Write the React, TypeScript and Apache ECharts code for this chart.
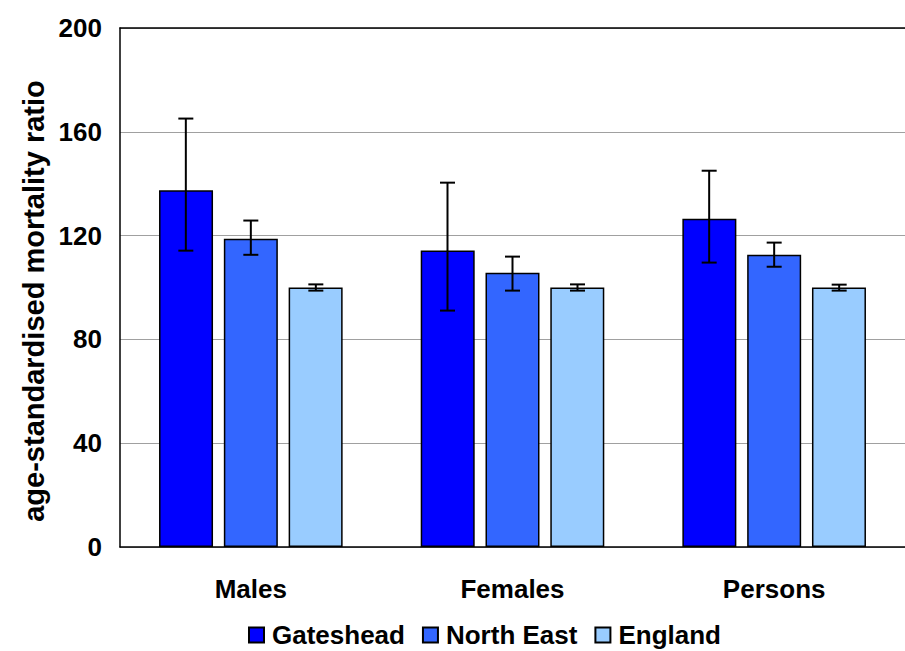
import React, { useEffect, useRef } from "react";
import * as echarts from "echarts";

const categories = ["Males", "Females", "Persons"];
const seriesNames = ["Gateshead", "North East", "England"];

const gateshead = [137.5, 114.3, 126.5];
const gatesheadLow = [114.2, 91.1, 109.6];
const gatesheadHigh = [165.1, 140.4, 145.0];

const northEast = [118.8, 105.7, 112.6];
const northEastLow = [112.6, 98.8, 108.0];
const northEastHigh = [125.8, 111.9, 117.3];

const england = [100, 100, 100];
const englandLow = [98.8, 98.8, 98.8];
const englandHigh = [101.2, 101.2, 101.1];

const yTicks = [0, 40, 80, 120, 160, 200];

const colors = ["#0000FF", "#3366FF", "#99CCFF"];
const FONT = "'Liberation Sans', Arial, sans-serif";

const BAR_W = 54;
const STEP = 65;

function errorSeries(name: string, low: number[], high: number[], idx: number) {
  const offset = (idx - 1) * STEP;
  return {
    name: name + " CI",
    type: "custom",
    z: 10,
    silent: true,
    data: categories.map((_, i) => [i, low[i], high[i]]),
    renderItem: (params: any, api: any) => {
      const c = api.value(0);
      const lo = api.coord([c, api.value(1)]);
      const hi = api.coord([c, api.value(2)]);
      const x = lo[0] + offset;
      const cap = 7.5;
      const style = { stroke: "#000", lineWidth: 2, fill: "none" };
      return {
        type: "group",
        children: [
          { type: "line", shape: { x1: x, y1: lo[1], x2: x, y2: hi[1] }, style },
          { type: "line", shape: { x1: x - cap, y1: lo[1], x2: x + cap, y2: lo[1] }, style },
          { type: "line", shape: { x1: x - cap, y1: hi[1], x2: x + cap, y2: hi[1] }, style },
        ],
      };
    },
  };
}

export default function App() {
  const ref = useRef<HTMLDivElement>(null);

  useEffect(() => {
    document.body.style.margin = "0";
    if (!ref.current) return;
    const chart = echarts.init(ref.current, null, { renderer: "svg" });
    const barValues = [gateshead, northEast, england];
    chart.setOption({
      animation: false,
      backgroundColor: "#fff",
      textStyle: { fontFamily: FONT },
      grid: {
        left: 120,
        top: 28,
        width: 798,
        height: 519,
        show: false,
        containLabel: false,
      },
      legend: {
        data: seriesNames,
        left: 248,
        top: 620,
        icon: "rect",
        itemWidth: 15,
        itemHeight: 15,
        itemGap: 17,
        padding: 0,
        textStyle: {
          fontFamily: FONT,
          fontWeight: "bold",
          fontSize: 26,
          lineHeight: 30,
          color: "#000",
          padding: [0, 0, 0, 3],
        },
      },
      xAxis: [
        {
          type: "category",
          data: categories,
          axisLine: { lineStyle: { color: "#000", width: 1.5 } },
          axisTick: { show: false },
          axisLabel: {
            fontFamily: FONT,
            fontWeight: "bold",
            fontSize: 26,
            color: "#000",
            margin: 29,
          },
        },
        {
          type: "category",
          data: categories,
          position: "top",
          axisLine: { show: true, lineStyle: { color: "#000", width: 1.5 } },
          axisTick: { show: false },
          axisLabel: { show: false },
        },
      ],
      yAxis: {
        type: "value",
        min: 0,
        max: 200,
        interval: 40,
        axisLine: { show: true, lineStyle: { color: "#000", width: 1.5 } },
        axisTick: { show: false },
        axisLabel: {
          fontFamily: FONT,
          fontWeight: "bold",
          fontSize: 26,
          color: "#000",
          margin: 18,
          formatter: (v: number) => (yTicks.includes(v) ? String(v) : ""),
        },
        splitLine: { lineStyle: { color: "#A0A0A0", width: 1 } },
      },
      graphic: [
        {
          type: "text",
          x: 34,
          y: 301,
          rotation: Math.PI / 2,
          style: {
            text: "age-standardised mortality ratio",
            font: `bold 29px ${FONT}`,
            fill: "#000",
            textAlign: "center",
            textVerticalAlign: "middle",
          },
        },
      ],
      series: [
        ...seriesNames.map((name, i) => ({
          name,
          type: "bar",
          barWidth: BAR_W,
          barGap: "20%",
          data: barValues[i],
          itemStyle: { color: colors[i], borderColor: "#000", borderWidth: 1.5 },
        })),
        errorSeries("Gateshead", gatesheadLow, gatesheadHigh, 0),
        errorSeries("North East", northEastLow, northEastHigh, 1),
        errorSeries("England", englandLow, englandHigh, 2),
      ],
    });
    return () => chart.dispose();
  }, []);

  return <div ref={ref} style={{ width: 905, height: 651 }} />;
}
